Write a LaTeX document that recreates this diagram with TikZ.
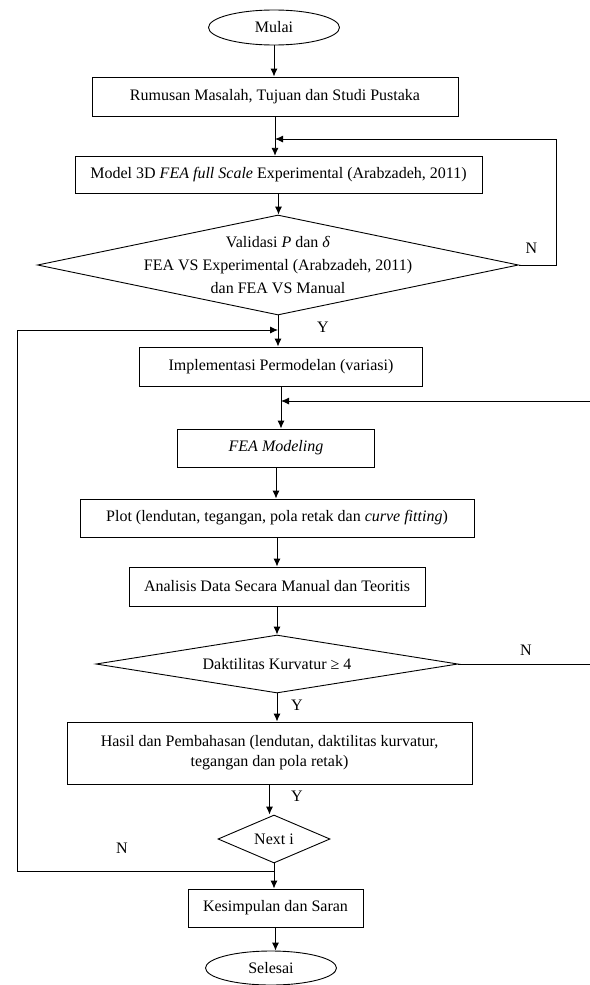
\documentclass[tikz,border=0pt]{standalone}
\usepackage{fontspec}
\setmainfont{Liberation Serif}
\usetikzlibrary{shapes.geometric, arrows.meta}

\begin{document}
\begin{tikzpicture}[x=1pt, y=-1pt, line width=0.9pt,
    every node/.style={font=\fontsize{16}{21}\selectfont},
    box/.style={draw, rectangle, inner sep=0pt, align=center},
    term/.style={draw, ellipse, inner sep=0pt, minimum width=131pt, minimum height=35pt},
    dec/.style={draw, diamond, inner sep=0pt},
    arr/.style={-{Latex[length=8pt, width=7pt]}}]
    \useasboundingbox (0,0) rectangle (589,985);

    % alur utama
    \node[term] (mulai) at (274,27.5) {Mulai};
    \node[box, minimum width=366pt, minimum height=39pt] (rumusan) at (275,96.5) {Rumusan Masalah, Tujuan dan Studi Pustaka};
    \node[box, minimum width=407pt, minimum height=37.5pt] (model) at (278.5,175) {Model 3D \textit{FEA full Scale} Experimental (Arabzadeh, 2011)};
    \node[dec, minimum width=481pt, minimum height=100pt,
        label={[align=center, font=\fontsize{16}{23}\selectfont]center:Validasi \textit{P} dan \textit{δ}\\FEA VS Experimental (Arabzadeh, 2011)\\dan FEA VS Manual}] (valid) at (278,265) {};
    \node[box, minimum width=283pt, minimum height=39pt] (impl) at (281,366.5) {Implementasi Permodelan (variasi)};
    \node[box, minimum width=197pt, minimum height=38pt] (fea) at (276,448) {\textit{FEA Modeling}};
    \node[box, minimum width=394pt, minimum height=38pt] (plot) at (277,518) {Plot (lendutan, tegangan, pola retak dan \textit{curve fitting})};
    \node[box, minimum width=296pt, minimum height=39pt] (anal) at (277,586.5) {Analisis Data Secara Manual dan Teoritis};
    \node[dec, minimum width=362pt, minimum height=58pt,
        label=center:{Daktilitas Kurvatur ≥ 4}] (dakt) at (277,664) {};
    \node[box, minimum width=405pt, minimum height=62pt, font=\fontsize{16}{20}\selectfont] (hasil) at (269.5,753) {Hasil dan Pembahasan (lendutan, daktilitas kurvatur,\\tegangan dan pola retak)};
    \node[dec, minimum width=112pt, minimum height=48pt, label=center:{Next i}] (next) at (274,839) {};
    \node[box, minimum width=175pt, minimum height=38pt] (kesim) at (275.5,908) {Kesimpulan dan Saran};
    \node[term, minimum height=34pt] (selesai) at (271,968) {Selesai};

    \draw[arr] (mulai.south) -- (mulai.south |- rumusan.north);
    \draw[arr] (rumusan.south) -- (rumusan.south |- model.north);
    \draw[arr] (model.south) -- (model.south |- valid.north);
    \draw[arr] (valid.south) -- (valid.south |- impl.north);
    \draw[arr] (impl.south) -- (impl.south |- fea.north);
    \draw[arr] (fea.south) -- (fea.south |- plot.north);
    \draw[arr] (plot.south) -- (plot.south |- anal.north);
    \draw[arr] (anal.south) -- (anal.south |- dakt.north);
    \draw[arr] (dakt.south) -- (dakt.south |- hasil.north);
    \draw[arr] (hasil.south) -- (hasil.south |- next.north);
    \draw[arr] (next.south) -- (next.south |- kesim.north);
    \draw[arr] (kesim.south) -- (kesim.south |- selesai.north);

    % loop balik
    \coordinate (j1) at (rumusan.south |- 0,139);
    \coordinate (j2) at (valid.south |- 0,330);
    \coordinate (j3) at (next.south |- 0,871);
    \coordinate (j4) at (impl.south |- 0,401);
    \coordinate (kiri) at (17,330);
    \coordinate (kanan) at (592,401);
    \draw[arr] (valid.east) -- ++(37,0) |- (j1);
    \draw[arr] (j3) -| (kiri) -- (j2);
    \draw[arr] (dakt.east) -| (kanan) -- (j4);

    % label Y / N
    \node (n1) at (531.5,248) {N};
    \node (y1) at (323,327) {Y};
    \node (n2) at (526,650) {N};
    \node (y2) at (297,705) {Y};
    \node (y3) at (297,796) {Y};
    \node (n3) at (122,848) {N};
\end{tikzpicture}
\end{document}
